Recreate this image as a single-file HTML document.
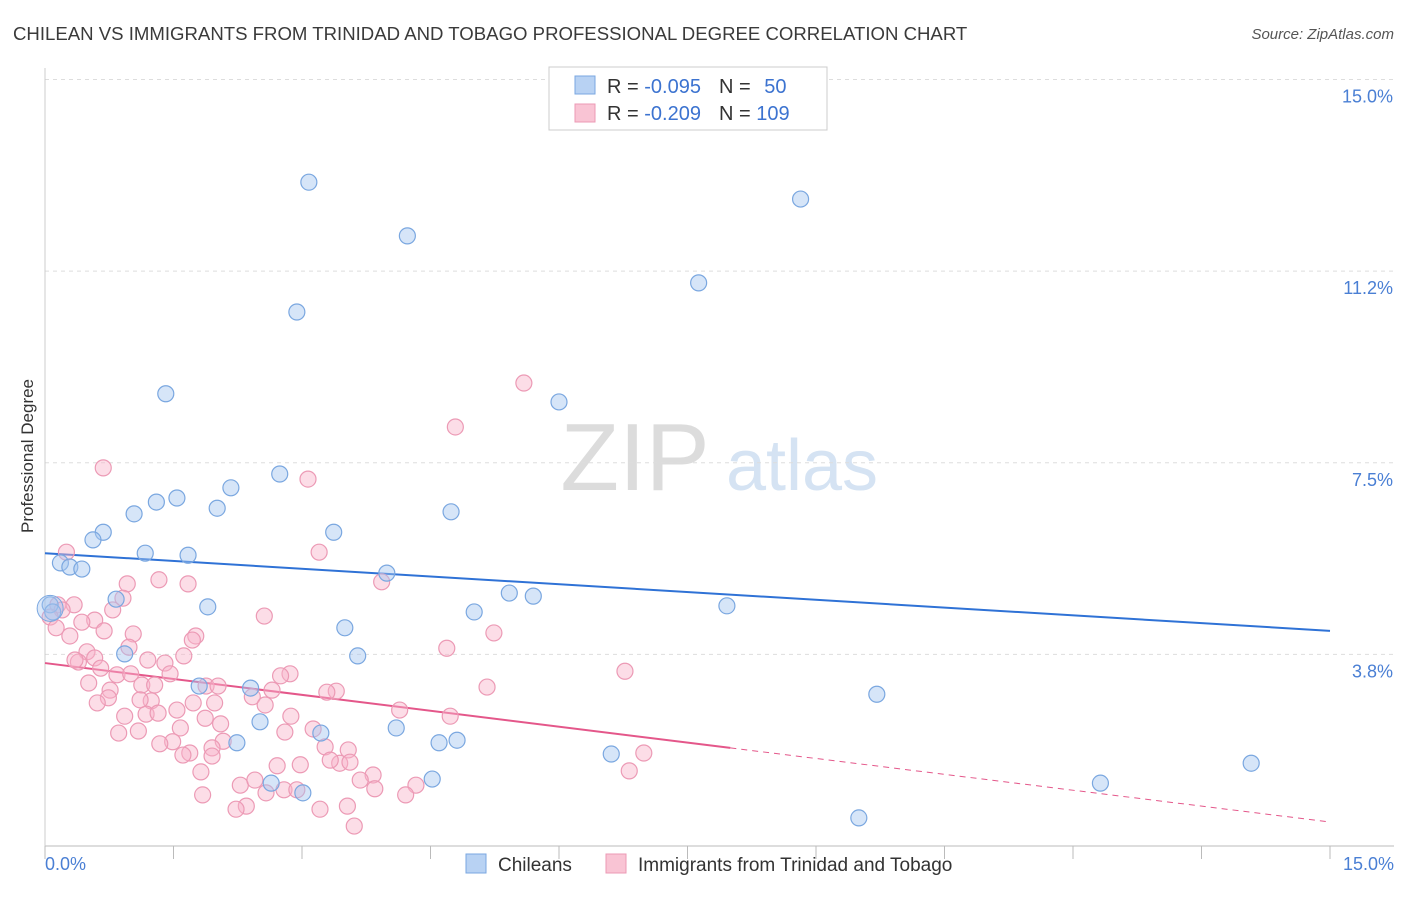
<!DOCTYPE html>
<html><head><meta charset="utf-8"><style>
body{margin:0;background:#fff;font-family:"Liberation Sans",sans-serif;}
svg text{font-family:"Liberation Sans",sans-serif;}
</style></head><body>
<svg id="chart" width="1406" height="892" xmlns="http://www.w3.org/2000/svg">
<text x="13" y="40" font-size="18.6" fill="#3a3a3a">CHILEAN VS IMMIGRANTS FROM TRINIDAD AND TOBAGO PROFESSIONAL DEGREE CORRELATION CHART</text>
<text x="1394" y="39" font-size="15" fill="#555" text-anchor="end" font-style="italic">Source: ZipAtlas.com</text>
<text transform="translate(33,456) rotate(-90)" font-size="17" fill="#333" text-anchor="middle">Professional Degree</text>
<g>
<text x="635" y="490" font-size="96" fill="#dcdcdc" font-family="Liberation Serif" text-anchor="middle">ZIP</text>
<text x="802" y="490" font-size="72" fill="#d5e3f3" text-anchor="middle">atlas</text>
</g>
<g id="grid"></g><g id="axes"></g><g id="trend"></g><g id="pts"></g>
<g>
<rect x="549" y="67" width="278" height="63" fill="#fff" stroke="#ccc"/>
<rect x="575" y="76" width="20" height="18" fill="#b8d2f3" stroke="#7aa7e0"/>
<rect x="575" y="104" width="20" height="18" fill="#f9c4d4" stroke="#ec9ab5"/>
<text x="607" y="93" font-size="20" fill="#333">R = <tspan fill="#3c73d0">-0.095</tspan><tspan dx="18">N = </tspan><tspan fill="#3c73d0" dx="8">50</tspan></text>
<text x="607" y="120" font-size="20" fill="#333">R = <tspan fill="#3c73d0">-0.209</tspan><tspan dx="18">N = </tspan><tspan fill="#3c73d0">109</tspan></text>
</g>
<g>
<rect x="466" y="854" width="20" height="19" fill="#b8d2f3" stroke="#7aa7e0"/>
<text x="498" y="871" font-size="19" fill="#333">Chileans</text>
<rect x="606" y="854" width="20" height="19" fill="#f9c4d4" stroke="#ec9ab5"/>
<text x="638" y="871" font-size="19" fill="#333">Immigrants from Trinidad and Tobago</text>
</g>
</svg>
<script>
const yTicks=[3.8,7.5,11.2,15.0];
const yTickVals=[3.75,7.5,11.25,15];
const xTickLabels=["0.0%","15.0%"];
const blueX=[3.08,8.82,4.23,7.63,2.94,1.41,6.0,2.74,2.17,1.54,1.30,2.01,4.74,1.04,3.37,0.68,0.56,1.17,1.67,0.18,0.29,0.43,3.99,5.42,5.70,0.83,1.90,5.01,7.96,0.06,0.09,3.50,0.93,3.65,9.71,1.80,2.40,2.51,4.10,3.22,2.24,4.60,4.81,6.61,4.52,2.64,12.32,14.08,3.01,9.50];
const blueY=[12.99,12.66,11.94,11.02,10.45,8.85,8.69,7.28,7.01,6.81,6.73,6.61,6.54,6.50,6.14,6.14,5.99,5.73,5.69,5.54,5.46,5.42,5.34,4.95,4.89,4.83,4.68,4.58,4.70,4.72,4.58,4.27,3.76,3.72,2.97,3.13,3.09,2.43,2.31,2.21,2.02,2.02,2.07,1.80,1.31,1.23,1.23,1.62,1.04,0.55];
const pinkX=[5.59,4.79,0.68,3.07,0.25,3.20,1.33,1.67,0.96,3.93,0.91,0.34,0.15,0.20,0.06,2.56,0.58,0.43,0.69,1.03,1.76,5.24,0.29,0.98,4.69,0.49,1.62,1.20,0.39,0.58,1.40,0.65,0.84,1.00,1.46,6.77,2.86,2.75,0.51,1.13,1.28,1.88,2.02,5.16,0.76,3.40,3.29,2.65,0.74,0.61,1.24,1.73,1.98,2.42,1.54,4.14,0.93,1.18,1.32,1.87,2.05,2.87,4.73,1.58,0.86,1.09,3.13,2.80,2.08,1.49,1.95,3.27,1.69,1.61,3.54,1.95,6.99,3.44,3.56,2.71,1.82,3.83,6.82,2.28,2.79,2.58,3.85,4.33,1.84,4.21,2.94,2.35,2.23,3.21,3.53,3.61,0.13,0.79,0.35,1.34,2.45,3.33,1.72,1.11,2.57,2.98,3.68];
const pinkY=[9.06,8.20,7.40,7.18,5.75,5.75,5.21,5.13,5.13,5.17,4.85,4.72,4.72,4.62,4.48,4.50,4.42,4.38,4.21,4.15,4.11,4.17,4.11,3.89,3.87,3.80,3.72,3.64,3.60,3.68,3.58,3.48,3.35,3.37,3.37,3.42,3.37,3.33,3.19,3.15,3.15,3.13,3.13,3.11,3.05,3.03,3.01,3.05,2.90,2.80,2.84,2.80,2.80,2.92,2.66,2.66,2.54,2.58,2.60,2.50,2.39,2.54,2.54,2.31,2.21,2.25,2.29,2.23,2.05,2.04,1.92,1.94,1.82,1.78,1.88,1.76,1.82,1.62,1.64,1.57,1.45,1.39,1.47,1.19,1.10,1.04,1.12,1.19,1.00,1.00,1.10,0.78,0.72,0.72,0.78,0.39,4.27,4.62,3.64,2.00,1.29,1.68,4.03,2.86,2.76,1.59,1.29];
const blueTrend=[5.73,4.21];
const pinkTrend=[3.58,1.92,0.47];
const pinkSolidEnd=8.0;
const NS="http://www.w3.org/2000/svg";
const X0=45,X1=1330,Y0=846,Y15=79.5;
const sx=v=>X0+(X1-X0)*v/15;
const sy=v=>Y0-(Y0-Y15)*v/15;
function mk(tag,attrs,parent){const e=document.createElementNS(NS,tag);for(const k in attrs)e.setAttribute(k,attrs[k]);document.getElementById(parent).appendChild(e);return e;}
yTickVals.forEach((v,i)=>{
 const g=mk('line',{x1:45,x2:1394,y1:sy(v),y2:sy(v),stroke:'#ddd','stroke-dasharray':'4,4'},'grid');
 
 
 const t=mk('text',{x:1393,y:sy(v)+23,'font-size':18,fill:'#4a7fd4','text-anchor':'end'},'axes');
 t.textContent=yTicks[i].toFixed(1)+'%';
 
 
});
const ax=mk('line',{x1:45,x2:1394,y1:Y0,y2:Y0,stroke:'#bbb'},'axes');


const ay=mk('line',{x1:45,x2:45,y1:68,y2:Y0,stroke:'#ccc'},'axes');


for(let i=0;i<=10;i++){const t=mk('line',{x1:sx(i*1.5),x2:sx(i*1.5),y1:Y0,y2:Y0+13,stroke:'#bbb'},'axes');
 
 }
[[0,45,'start'],[15,1394,'end']].forEach((d,i)=>{const t=mk('text',{x:d[1],y:870,'font-size':18,fill:'#4a7fd4','text-anchor':d[2]},'axes');t.textContent=xTickLabels[i];
 
 });
function dots(xs,ys,fill,stroke,name){xs.forEach((x,i)=>{const c=mk('circle',{cx:sx(x),cy:sy(ys[i]),r:8,fill:fill,stroke:stroke,'stroke-width':1.2},'pts');
 
 });}
dots(pinkX,pinkY,'rgba(248,180,202,0.45)','#ec9ab5','pink-point');
dots(blueX,blueY,'rgba(164,198,240,0.45)','#7aa7e0','blue-point');
const big=mk('circle',{cx:sx(0.06),cy:sy(4.65),r:13,fill:'rgba(164,198,240,0.4)',stroke:'#7aa7e0'},'pts');


const bl=mk('line',{x1:sx(0),y1:sy(blueTrend[0]),x2:sx(15),y2:sy(blueTrend[1]),stroke:'#2f72d6','stroke-width':2},'trend');


const pl=mk('line',{x1:sx(0),y1:sy(pinkTrend[0]),x2:sx(pinkSolidEnd),y2:sy(pinkTrend[1]),stroke:'#e4578a','stroke-width':2},'trend');


const pd=mk('line',{x1:sx(pinkSolidEnd),y1:sy(pinkTrend[1]),x2:sx(15),y2:sy(pinkTrend[2]),stroke:'#e4578a','stroke-width':1,'stroke-dasharray':'6,5'},'trend');


</script>
</body></html>
